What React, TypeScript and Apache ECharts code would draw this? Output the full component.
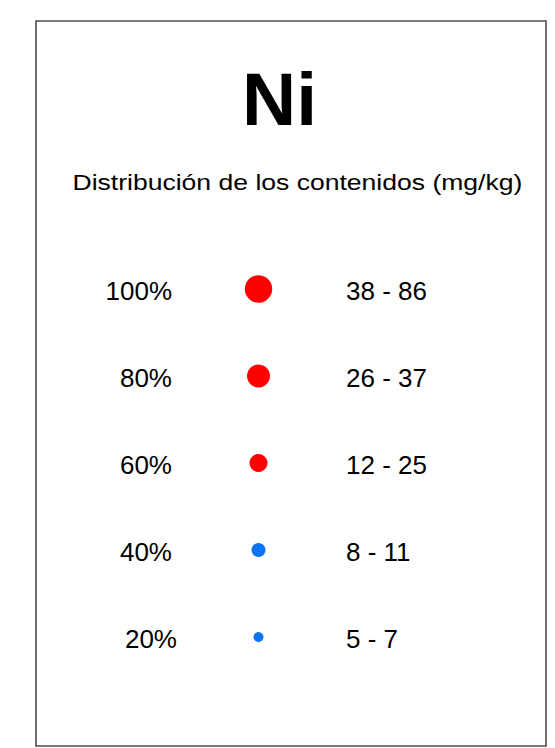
import React, { useEffect, useRef } from "react";
import * as echarts from "echarts";

const elementName = "Ni";
const subtitle = "Distribución de los contenidos (mg/kg)";
const percentiles = ["100%", "80%", "60%", "40%", "20%"];
const ranges = ["38 - 86", "26 - 37", "12 - 25", "8 - 11", "5 - 7"];
const symbolSizes = [27.5, 23, 18, 14, 10];
const colors = ["#ff0000", "#ff0000", "#ff0000", "#0a74f5", "#0a74f5"];
const shiftedLabel = "20%";

const FONT = "'Liberation Sans', Arial, Helvetica, sans-serif";

export default function App() {
  const ref = useRef<HTMLDivElement>(null);
  useEffect(() => {
    if (!ref.current) return;
    const chart = echarts.init(ref.current, null, { renderer: "svg" });
    chart.setOption({
      animation: false,
      backgroundColor: "#ffffff",
      grid: { left: 180, right: 218, top: 245.5, height: 435 },
      xAxis: { type: "value", min: 0, max: 1, show: false },
      yAxis: [
        {
          type: "category",
          inverse: true,
          data: percentiles,
          position: "left",
          axisLine: { show: false },
          axisTick: { show: false },
          splitLine: { show: false },
          axisLabel: {
            margin: 3,
            align: "right",
            formatter: (v: string) => (v === shiftedLabel ? `{b|${v}}` : `{a|${v}}`),
            rich: {
              a: { fontSize: 26, fontFamily: FONT, color: "#000", padding: [4, 5, 0, 0] },
              b: { fontSize: 26, fontFamily: FONT, color: "#000", padding: [4, 0, 0, 0] },
            },
          },
        },
        {
          type: "category",
          inverse: true,
          data: ranges,
          position: "right",
          axisLine: { show: false },
          axisTick: { show: false },
          splitLine: { show: false },
          axisLabel: {
            margin: 9,
            align: "left",
            formatter: (v: string) => `{a|${v}}`,
            rich: {
              a: { fontSize: 26, fontFamily: FONT, color: "#000", padding: [4, 0, 0, 0] },
            },
          },
        },
      ],
      series: [
        {
          type: "scatter",
          yAxisIndex: 0,
          symbol: "circle",
          itemStyle: { opacity: 1 },
          emphasis: { disabled: true },
          data: percentiles.map((p, i) => ({
            value: [0.5, p],
            symbolSize: symbolSizes[i],
            itemStyle: { color: colors[i], opacity: 1 },
          })),
        },
      ],
      graphic: [
        {
          type: "rect",
          shape: { x: 36, y: 21, width: 510, height: 725 },
          style: { fill: "none", stroke: "#4d4d4d", lineWidth: 1.6 },
          silent: true,
        },
        {
          type: "text",
          x: 279.5,
          y: 99,
          style: {
            text: elementName,
            fontSize: 75,
            fontWeight: "bold",
            fontFamily: FONT,
            fill: "#000",
            align: "center",
            verticalAlign: "middle",
          },
        },
        {
          type: "text",
          x: 72.5,
          y: 182,
          scaleX: 1.18,
          style: {
            text: subtitle,
            fontSize: 22.5,
            fontFamily: FONT,
            fill: "#000",
            align: "left",
            verticalAlign: "middle",
          },
        },
      ],
    });
    return () => chart.dispose();
  }, []);
  return (
    <div
      ref={ref}
      style={{ position: "fixed", left: 0, top: 0, width: 555, height: 748 }}
    />
  );
}
